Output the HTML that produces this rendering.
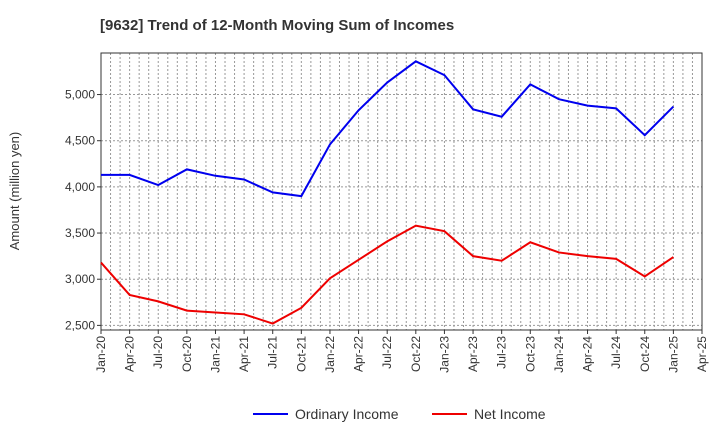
<!DOCTYPE html>
<html><head><meta charset="utf-8"><style>
body{margin:0;background:#fff;font-family:"Liberation Sans",sans-serif}
</style></head><body>
<svg id="c" width="720" height="440" xmlns="http://www.w3.org/2000/svg"></svg>
<script>
const tickLabels=["Jan-20","Apr-20","Jul-20","Oct-20","Jan-21","Apr-21","Jul-21","Oct-21","Jan-22","Apr-22","Jul-22","Oct-22","Jan-23","Apr-23","Jul-23","Oct-23","Jan-24","Apr-24","Jul-24","Oct-24","Jan-25","Apr-25"];
const ordinaryIncome=[4130,4130,4020,4190,4120,4080,3940,3900,4460,4830,5130,5360,5210,4840,4760,5110,4950,4880,4850,4560,4870];
const netIncome=[3180,2830,2760,2660,2640,2620,2520,2690,3010,3210,3410,3580,3520,3250,3200,3400,3290,3250,3220,3030,3240];
const yTicks=[2500,3000,3500,4000,4500,5000];
const NS="http://www.w3.org/2000/svg";
const svg=document.getElementById('c');
const L=101,R=702,T=53,B=330,yMin=2450,yMax=5450;
const x=i=>L+(R-L)*i/21;
const y=v=>B-(v-yMin)/(yMax-yMin)*(B-T);
function el(t,a,p){const e=document.createElementNS(NS,t);for(const k in a)e.setAttribute(k,a[k]);(p||svg).appendChild(e);return e;}
let t=el('text',{x:100,y:30,'font-size':15,'font-weight':'bold',fill:'#333'});t.textContent="[9632]  Trend of 12-Month Moving Sum of Incomes";

for(let m=1;m<63;m++){const xx=L+(R-L)*m/63;let g=el('line',{x1:xx,x2:xx,y1:T,y2:B,stroke:'#999','stroke-dasharray':'2,2','stroke-width':1});
}
yTicks.forEach(v=>{const yy=y(v);let g=el('line',{x1:L,x2:R,y1:yy,y2:yy,stroke:'#999','stroke-dasharray':'2,2'});

let l=el('text',{x:L-6,y:yy+4,'text-anchor':'end','font-size':12,fill:'#333'});l.textContent=v.toLocaleString('en-US');

el('line',{x1:L-4,x2:L,y1:yy,y2:yy,stroke:'#333'});});
let f=el('rect',{x:L,y:T,width:R-L,height:B-T,fill:'none',stroke:'#333'});

tickLabels.forEach((s,i)=>{const xx=x(i);el('line',{x1:xx,x2:xx,y1:B,y2:B+4,stroke:'#333'});
let l=el('text',{transform:`translate(${xx+4},${B+6}) rotate(-90)`,'text-anchor':'end','font-size':12,fill:'#333'});l.textContent=s;
});
let yt=el('text',{transform:'translate(19,191) rotate(-90)','text-anchor':'middle','font-size':13,fill:'#333'});yt.textContent="Amount (million yen)";

function line(d,c,n){let p=el('polyline',{points:d.map((v,i)=>x(i)+','+y(v)).join(' '),fill:'none',stroke:c,'stroke-width':2});
}
line(ordinaryIncome,'#0000ee','ordinary-income-line');
line(netIncome,'#ee0000','net-income-line');
[[253,'#0000ee','Ordinary Income','legend-ordinary-income'],[432,'#ee0000','Net Income','legend-net-income']].forEach(a=>{
let g=el('g',{});
el('line',{x1:a[0],x2:a[0]+35,y1:414,y2:414,stroke:a[1],'stroke-width':2},g);
let tx=el('text',{x:a[0]+42,y:419,'font-size':14,fill:'#333'},g);tx.textContent=a[2];});
</script>
</body></html>
